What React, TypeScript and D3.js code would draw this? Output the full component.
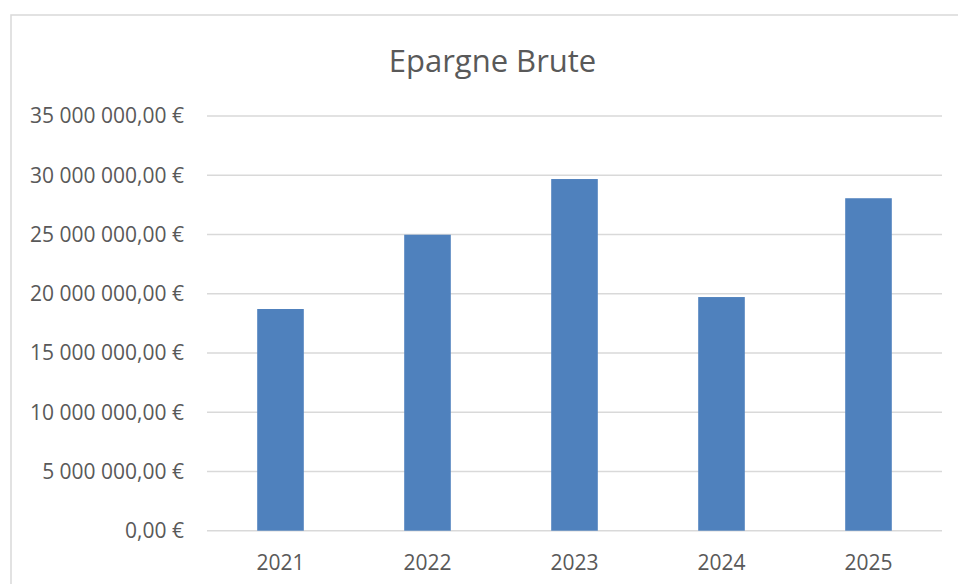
import React from "react";
import * as d3 from "d3";

const categories = ["2021", "2022", "2023", "2024", "2025"];
const values = [18710000, 24980000, 29680000, 19720000, 28060000];
const yTicks = [0, 5000000, 10000000, 15000000, 20000000, 25000000, 30000000, 35000000];
const title = "Epargne Brute";

const W = 958;
const H = 584;
const FONT = "'Open Sans', sans-serif";

function fmt(v: number): string {
  const fixed = v.toFixed(2);
  const [intPart, dec] = fixed.split(".");
  const grouped = intPart.replace(/\B(?=(\d{3})+(?!\d))/g, " ");
  return `${grouped},${dec} €`;
}

export default function App() {
  const x = d3
    .scaleBand<string>()
    .domain(categories)
    .range([207, 942])
    .paddingInner(0.683)
    .paddingOuter(0.3415);
  const y = d3.scaleLinear().domain([0, 35000000]).range([530.7, 116]);

  return (
    <svg
      width={W}
      height={H}
      style={{ position: "absolute", left: 0, top: 0, background: "#fff" }}
      fontFamily={FONT}
    >
      <rect x={0} y={0} width={W} height={H} fill="#ffffff" />
      <rect x={11} y={15} width={W + 20} height={H + 20} fill="none" stroke="#d9d9d9" strokeWidth={1.5} />
      <text x={492.5} y={72} textAnchor="middle" fontSize={31} fill="#595959">
        {title}
      </text>
      {yTicks.map((t) => (
        <g key={t}>
          <line x1={207} x2={942} y1={y(t)} y2={y(t)} stroke="#d9d9d9" strokeWidth={1.5} />
          <text x={184} y={y(t) + 7.3} textAnchor="end" fontSize={21} fill="#595959">
            {fmt(t)}
          </text>
        </g>
      ))}
      {categories.map((c, i) => (
        <rect
          key={c}
          x={x(c)}
          y={y(values[i])}
          width={x.bandwidth()}
          height={y(0) - y(values[i])}
          fill="#4f81bd"
        />
      ))}
      {categories.map((c) => (
        <text
          key={c}
          x={(x(c) as number) + x.bandwidth() / 2}
          y={569.5}
          textAnchor="middle"
          fontSize={21}
          fill="#595959"
        >
          {c}
        </text>
      ))}
    </svg>
  );
}
